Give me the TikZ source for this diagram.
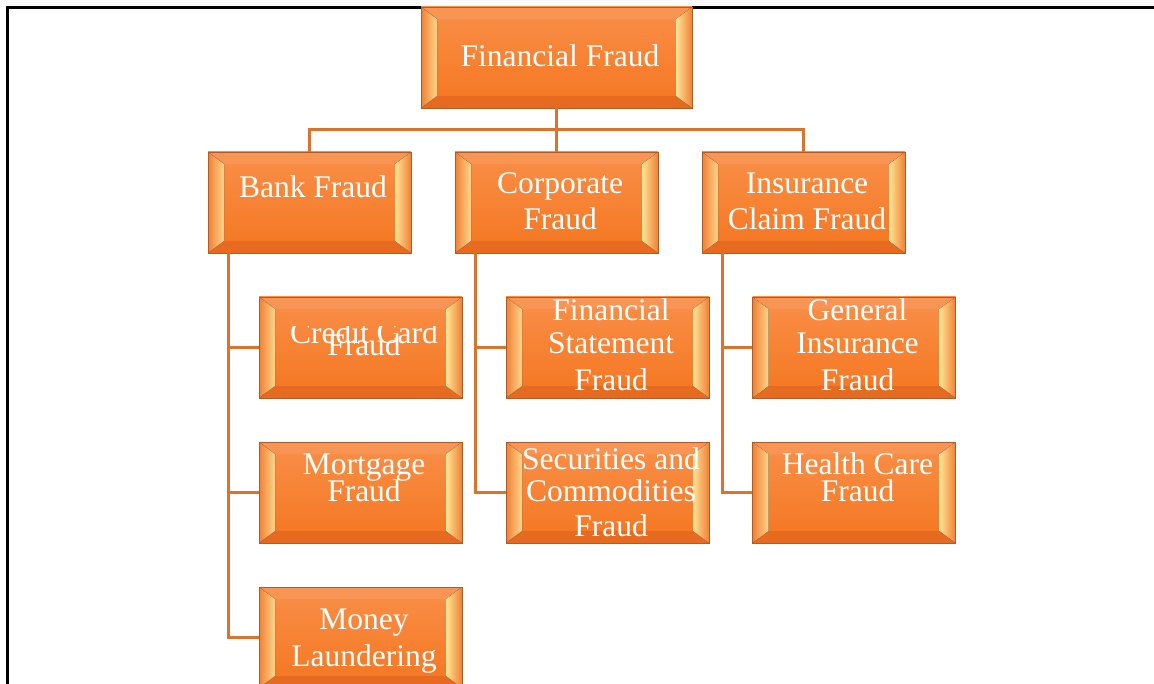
\documentclass[tikz,border=0pt]{standalone}
\usepackage{fontspec}
\setmainfont{Liberation Serif}
\definecolor{fraudLine}{RGB}{219,114,46}
\definecolor{fraudEdge}{RGB}{176,92,40}
\definecolor{faceTop}{RGB}{249,143,72}
\definecolor{faceBot}{RGB}{244,118,32}
\definecolor{bevelTop}{RGB}{248,148,84}
\definecolor{bevelBot}{RGB}{230,106,32}
\definecolor{bevelOut}{RGB}{240,128,52}
\definecolor{bevelLight}{RGB}{255,214,140}
\definecolor{bevelBright}{RGB}{255,228,150}

\begin{document}
\begin{tikzpicture}[x=1pt, y=-1pt,
    box/.style={draw=fraudEdge, line width=0.8pt, minimum width=203pt, minimum height=101pt, inner sep=0pt,
      path picture={
        \fill[top color=faceTop, bottom color=faceBot] (path picture bounding box.south west) rectangle (path picture bounding box.north east);
        \fill[bevelTop] (path picture bounding box.north west) -- (path picture bounding box.north east) -- ([shift={(-16pt,-12pt)}]path picture bounding box.north east) -- ([shift={(16pt,-12pt)}]path picture bounding box.north west) -- cycle;
        \fill[bevelBot] (path picture bounding box.south west) -- (path picture bounding box.south east) -- ([shift={(-16pt,12pt)}]path picture bounding box.south east) -- ([shift={(16pt,12pt)}]path picture bounding box.south west) -- cycle;
        \fill[left color=bevelOut, right color=bevelLight] (path picture bounding box.south west) -- (path picture bounding box.north west) -- ([shift={(16pt,-12pt)}]path picture bounding box.north west) -- ([shift={(16pt,12pt)}]path picture bounding box.south west) -- cycle;
        \fill[left color=bevelBright, right color=bevelOut] (path picture bounding box.south east) -- (path picture bounding box.north east) -- ([shift={(-16pt,-12pt)}]path picture bounding box.north east) -- ([shift={(-16pt,12pt)}]path picture bounding box.south east) -- cycle;
      }},
    lbl/.style={text=white, align=center, inner sep=0pt, anchor=base, font=\fontsize{31.5}{35}\selectfont},
    link/.style={draw=fraudLine, line width=2.5pt}
  ]
  \useasboundingbox (0,0) rectangle (1154,684);
  \fill[gray!4] (0,0) rectangle (1154,6.2);
  \draw[line width=2.5pt] (7.5,684) -- (7.5,7.5) -- (1154,7.5);

  % top
  \node[box, minimum width=271pt] (fin) at (556.5,57.5) {};
  \node[lbl] (fin-t) at ([xshift=3.5pt, yshift=-9.5pt]fin.center) {Financial Fraud};

  % first level
  \node[box] (bank) at (309.5,202.5) {};
  \node[box] (corp) at (556.5,202.5) {};
  \node[box] (ins) at (803.5,202.5) {};
  \node[lbl] (bank-t) at ([xshift=3.5pt, yshift=5pt]bank.center) {Bank Fraud};
  \node[lbl] (corp-t) at ([xshift=3.5pt, yshift=-27.5pt]corp.center) {Corporate\\[1pt]Fraud};
  \node[lbl] (ins-t) at ([xshift=3.5pt, yshift=-27.5pt]ins.center) {Insurance\\[1pt]Claim Fraud};

  % second level
  \node[box] (cc) at (360.5,347.5) {};
  \node[box] (mort) at (360.5,492.5) {};
  \node[box] (money) at (360.5,637.5) {};
  \node[box] (fs) at (607.5,347.5) {};
  \node[box] (sec) at (607.5,492.5) {};
  \node[box] (gi) at (854,347.5) {};
  \node[box] (hc) at (854,492.5) {};

  \begin{scope}
    \clip (259,327) rectangle (462,398);
    \node[lbl] (cc-t) at ([xshift=3.5pt, yshift=-8.5pt]cc.center) {Credit Card\\[-23pt]Fraud};
  \end{scope}
  \node[lbl] (mort-t) at ([xshift=3.5pt, yshift=-8.5pt]mort.center) {Mortgage\\[-8pt]Fraud};
  \node[lbl] (money-t) at ([xshift=3.5pt, yshift=-28.5pt]money.center) {Money\\[2pt]Laundering};
  \node[lbl] (fs-t) at ([xshift=3.5pt, yshift=-43.5pt]fs.center) {Financial\\[-2pt]Statement\\[2pt]Fraud};
  \node[lbl] (sec-t) at ([xshift=3.5pt, yshift=-43.5pt]sec.center) {Securities and\\[-3pt]Commodities\\Fraud};
  \node[lbl] (gi-t) at ([xshift=3.5pt, yshift=-43.5pt]gi.center) {General\\[-2pt]Insurance\\[2pt]Fraud};
  \node[lbl] (hc-t) at ([xshift=3.5pt, yshift=-8.5pt]hc.center) {Health Care\\[-8pt]Fraud};

  % connectors
  \draw[link] (fin.south) -- ++(0,21) coordinate (hub) -| (bank.north);
  \draw[link] (hub) -| (ins.north);
  \draw[link] (hub) -- (corp.north);

  \draw[link] ([xshift=21pt]bank.south west) |- (money.west);
  \draw[link] ([xshift=21pt]bank.south west) |- (cc.west);
  \draw[link] ([xshift=21pt]bank.south west) |- (mort.west);
  \draw[link] ([xshift=21pt]corp.south west) |- (sec.west);
  \draw[link] ([xshift=21pt]corp.south west) |- (fs.west);
  \draw[link] ([xshift=21pt]ins.south west) |- (hc.west);
  \draw[link] ([xshift=21pt]ins.south west) |- (gi.west);
\end{tikzpicture}
\end{document}
